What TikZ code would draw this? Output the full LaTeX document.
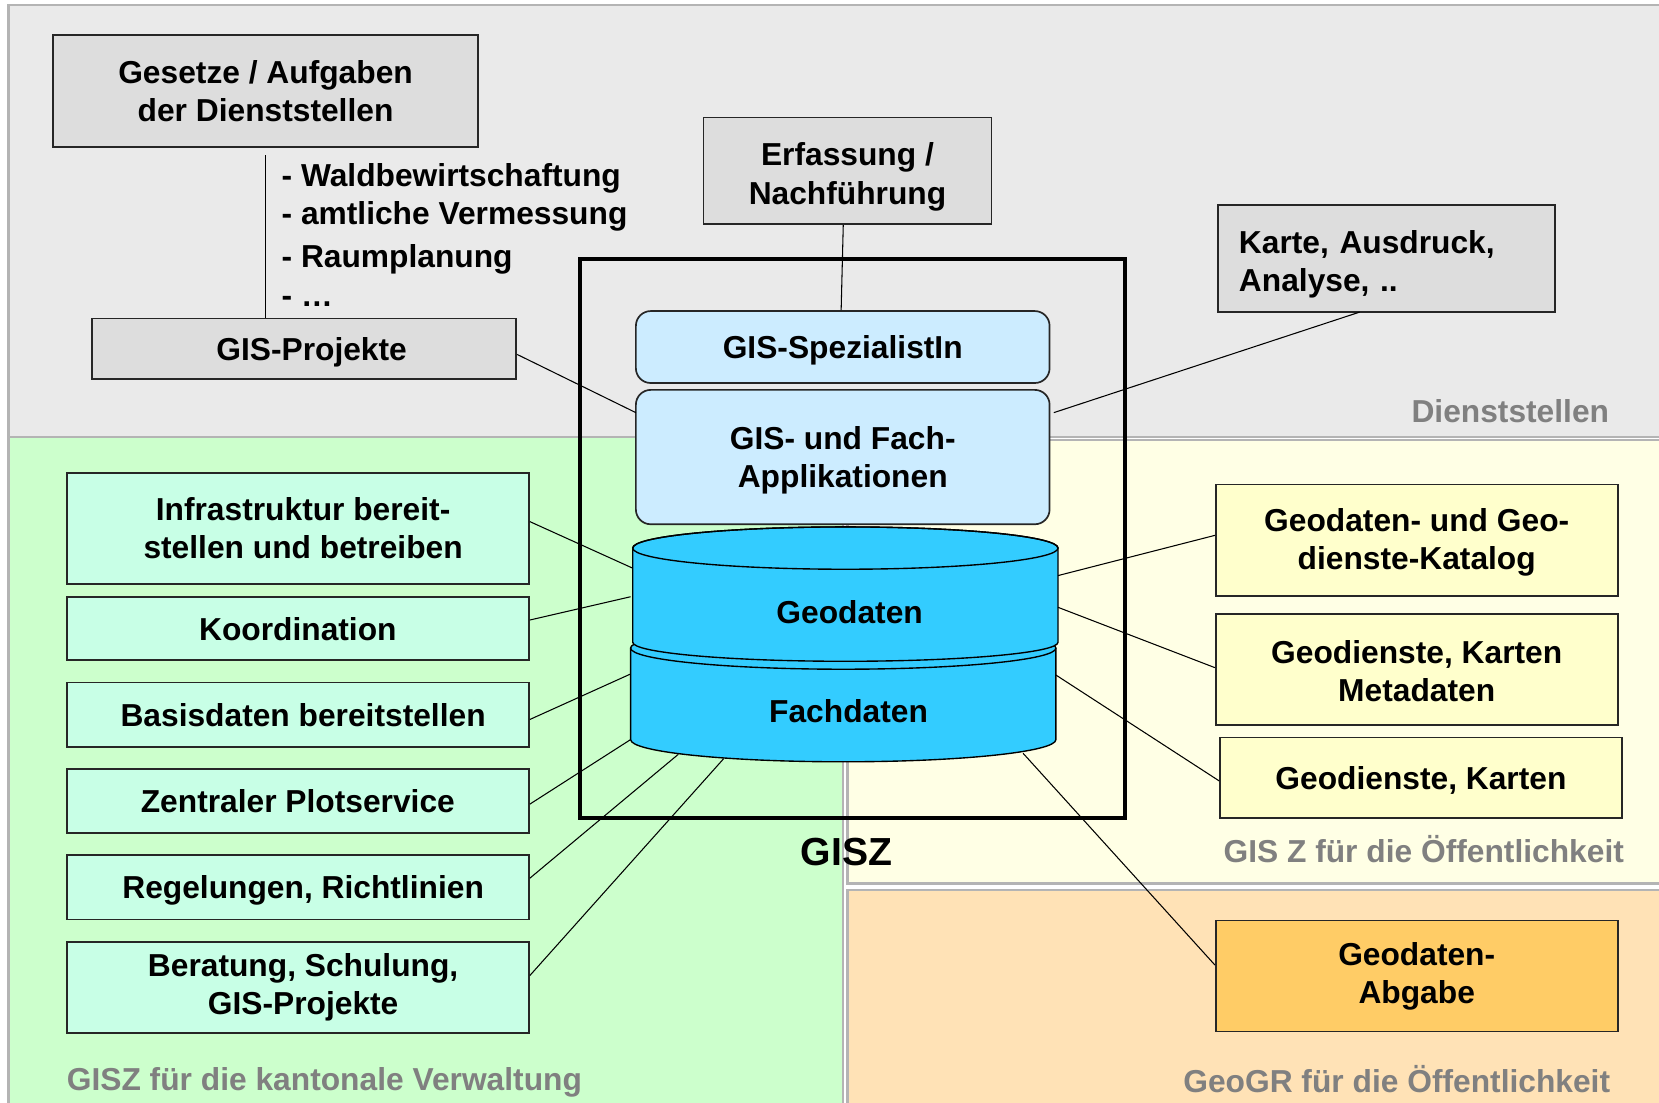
\documentclass[tikz,border=0pt]{standalone}
\usepackage{fontspec}
\setmainfont{Liberation Sans}
\usetikzlibrary{calc}
\definecolor{bggray}{HTML}{EAEAEA}
\definecolor{rgborder}{HTML}{B4B4B4}
\definecolor{boxgray}{HTML}{DDDDDD}
\definecolor{bggreen}{HTML}{CCFFCC}
\definecolor{bgyellow}{HTML}{FFFFE5}
\definecolor{bgorange}{HTML}{FFE2B6}
\definecolor{mint}{HTML}{C8FFE6}
\definecolor{lyellow}{HTML}{FFFFCC}
\definecolor{orangebox}{HTML}{FFCC66}
\definecolor{lblue}{HTML}{CCECFF}
\definecolor{cylblue}{HTML}{33CCFF}
\definecolor{labelgray}{HTML}{808080}
\newcommand{\rs}{\hspace*{10pt}}
\begin{document}
\begin{tikzpicture}[x=1pt,y=-1pt,
  font=\fontsize{30}{36}\selectfont\bfseries,
  region/.style={draw=rgborder, line width=2pt},
  basebox/.style={draw=black!85, line width=1.6pt, inner sep=0pt, align=center},
  graybox/.style={basebox, fill=boxgray},
  mintbox/.style={basebox, fill=mint},
  yelbox/.style={basebox, fill=lyellow},
  orbox/.style={basebox, fill=orangebox},
  bluebox/.style={basebox, fill=lblue, rounded corners=14pt},
  one/.style={text height=22pt, text depth=0pt},
  conn/.style={draw=black, line width=1pt},
  cylstyle/.style={fill=cylblue, draw=black, line width=1.3pt},
  rlabel/.style={text=labelgray, inner sep=0pt}]
\useasboundingbox (0,0) rectangle (1568,1042);
% regions
\path[region, fill=bggray] (8,5) rectangle (1580,413);
\path[region, fill=bggreen] (8,413) rectangle (797,1055);
\path[region, fill=bgyellow] (801,416) rectangle (1580,835);
\path[region, fill=bgorange] (801,841) rectangle (1580,1055);
% region labels
\node[rlabel, anchor=base east] (lab1) at (1521,399) {Dienststellen};
\node[rlabel, anchor=base east] (lab2) at (1535,815) {GIS Z für die Öffentlichkeit};
\node[rlabel, anchor=base west] (lab3) at (63,1031) {GISZ für die kantonale Verwaltung};
\node[rlabel, anchor=base east] (lab4) at (1522,1033) {GeoGR für die Öffentlichkeit};
% GISZ frame
\node[draw=black, line width=4pt, minimum width=515pt, minimum height=528pt, inner sep=0pt] (frame) at (805.5,509) {};
\node[font=\fontsize{37}{40}\selectfont\bfseries, anchor=base, inner sep=0pt] (gisz) at (800,818) {GISZ};
% top boxes
\node[graybox, minimum width=402pt, minimum height=106pt] (gesetze) at (251,86) {Gesetze / Aufgaben\\der Dienststellen};
\node[graybox, one, minimum width=401pt, minimum height=57pt] (projekte) at (287.5,329.5) {\hspace*{14pt}GIS-Projekte};
\node[graybox, minimum width=272pt, minimum height=101pt] (erfassung) at (801,161.5) {\rule{0pt}{33pt}Erfassung /\\Nachführung};
\node[graybox, minimum width=319pt, minimum height=101pt, align=left, text width=279pt] (karte) at (1310.5,244.5) {\rule{0pt}{32pt}Karte, Ausdruck,\\Analyse, ..};
% bullet list
\node[anchor=base west, inner sep=0pt] (b1) at (266,176) {- Waldbewirtschaftung};
\node[anchor=base west, inner sep=0pt] (b2) at (266,212) {- amtliche Vermessung};
\node[anchor=base west, inner sep=0pt] (b3) at (266,253) {- Raumplanung};
\node[anchor=base west, inner sep=0pt] (b4) at (266,290) {- …};
% blue boxes
\node[bluebox, one, minimum width=391pt, minimum height=68pt] (spez) at (796.5,328) {GIS-SpezialistIn};
\node[bluebox, minimum width=391pt, minimum height=127pt] (appl) at (796.5,432) {\rule{0pt}{28pt}GIS- und Fach-\\Applikationen};
% left boxes
\node[mintbox, minimum width=437pt, minimum height=105pt] (infra) at (281.5,499.5) {\rs Infrastruktur bereit-\\\rs stellen und betreiben};
\node[mintbox, one, minimum width=437pt, minimum height=60pt] (koord) at (281.5,594) {Koordination};
\node[mintbox, one, minimum width=437pt, minimum height=61pt] (basis) at (281.5,675.5) {\rs Basisdaten bereitstellen};
\node[mintbox, one, minimum width=437pt, minimum height=60pt] (plot) at (281.5,757) {Zentraler Plotservice};
\node[mintbox, one, minimum width=437pt, minimum height=61pt] (regel) at (281.5,838.5) {\rs Regelungen, Richtlinien};
\node[mintbox, minimum width=437pt, minimum height=86pt] (berat) at (281.5,933) {\rs Beratung, Schulung,\\\rs GIS-Projekte};
% right boxes
\node[yelbox, minimum width=380pt, minimum height=105pt] (katalog) at (1339,510.5) {\rule{0pt}{26pt}Geodaten- und Geo-\\dienste-Katalog};
\node[yelbox, minimum width=380pt, minimum height=105pt] (meta) at (1339,632.5) {\rule{0pt}{25pt}Geodienste, Karten\\Metadaten};
\node[yelbox, one, minimum width=380pt, minimum height=76pt] (karten) at (1343,735) {Geodienste, Karten};
\node[orbox, minimum width=380pt, minimum height=105pt] (abgabe) at (1339,922.5) {Geodaten-\\Abgabe};
% cylinder
\path[cylstyle] (596,612.5) -- (596,699) arc[start angle=180,end angle=360,x radius=201pt,y radius=21pt] -- (998,612.5) arc[start angle=0,end angle=180,x radius=201pt,y radius=20pt] -- cycle;
\draw[line width=1.3pt] (596,612.5) arc[start angle=180,end angle=360,x radius=201pt,y radius=20pt];
\path[cylstyle] (598,518) -- (598,607) arc[start angle=180,end angle=360,x radius=201pt,y radius=18pt] -- (1000,518) arc[start angle=0,end angle=180,x radius=201pt,y radius=20pt] -- cycle;
\draw[line width=1.3pt] (799,518) ellipse[x radius=201pt, y radius=20pt];
\node[one] (geo) at (803,578) {Geodaten};
\node[one] (fach) at (802,672) {Fachdaten};
% connector points
\coordinate (applL) at (601,390);
\coordinate (applR) at (996,390);
\coordinate (karteS) at (1285,295);
\coordinate (g1) at (598,537);
\coordinate (g2) at (596,564);
\coordinate (f1) at (596,637);
\coordinate (f2) at (596,699);
\coordinate (f3) at (641,713);
\coordinate (f4) at (684,717);
\coordinate (gr1) at (1000,544);
\coordinate (gr2) at (1000,574);
\coordinate (fr1) at (998,638);
\coordinate (fr2) at (967,712);
% connectors
\draw[conn] ($(gesetze.south)+(0,7)$) -- (gesetze.south |- projekte.north);
\draw[conn] ($(erfassung.south)+(-4,0)$) -- ($(spez.north)+(-1.5,0)$);
\draw[conn] ($(projekte.east)+(0,5.5)$) -- (applL);
\draw[conn] (karteS) -- (applR);
\draw[conn] ($(infra.east)+(0,-6.5)$) -- (g1);
\draw[conn] ($(koord.east)+(0,-8)$) -- (g2);
\draw[conn] ($(basis.east)+(0,4.5)$) -- (f1);
\draw[conn] ($(plot.east)+(0,3)$) -- (f2);
\draw[conn] ($(regel.east)+(0,-8.5)$) -- (f3);
\draw[conn] ($(berat.east)+(0,-11)$) -- (f4);
\draw[conn] (gr1) -- ($(katalog.west)+(0,-4.5)$);
\draw[conn] (gr2) -- ($(meta.west)+(0,-1.5)$);
\draw[conn] (fr1) -- ($(karten.west)+(0,3)$);
\draw[conn] (fr2) -- ($(abgabe.west)+(0,-10.5)$);
\end{tikzpicture}
\end{document}
